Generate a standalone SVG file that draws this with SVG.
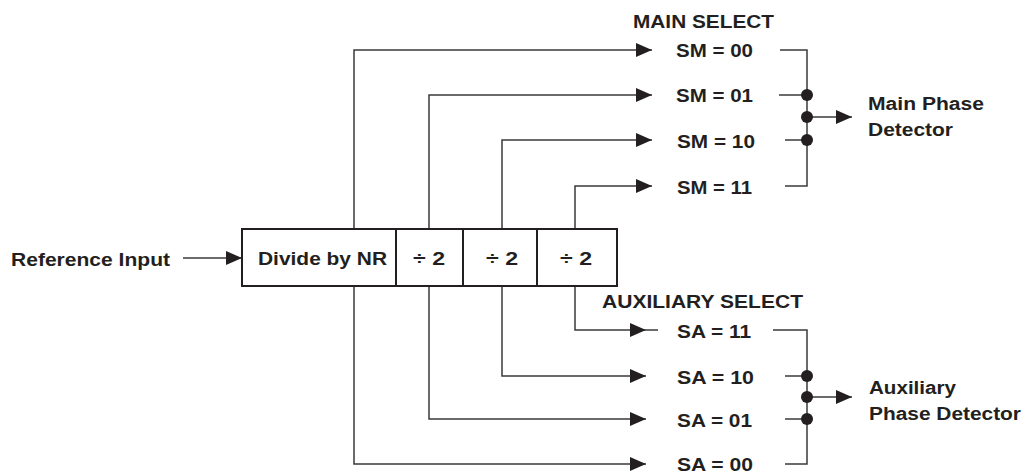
<svg xmlns="http://www.w3.org/2000/svg" width="1023" height="473" viewBox="0 0 1023 473">
<style>
.t{font-family:"Liberation Sans",Arial,sans-serif;font-weight:bold;font-size:18px;fill:#231f20}
.m{text-anchor:middle}
.ln{fill:none;stroke:#3a3a3a;stroke-width:1.5}
.bx{fill:#fff;stroke:#231f20;stroke-width:2}
.dot{fill:#231f20}
</style>
<defs>
<marker id="ah" markerUnits="userSpaceOnUse" markerWidth="16" markerHeight="14" refX="16" refY="7" orient="auto">
<path d="M0,0 L16,7 L0,14 z" fill="#231f20"/>
</marker>
</defs>
<rect width="1023" height="473" fill="#fff"/>
<g id="connectors">
<line class="ln" x1="183" y1="258" x2="242" y2="258" marker-end="url(#ah)"/>
<polyline class="ln" points="354,229 354,50 652,50" marker-end="url(#ah)"/>
<polyline class="ln" points="429,229 429,95 652,95" marker-end="url(#ah)"/>
<polyline class="ln" points="502,229 502,140 652,140" marker-end="url(#ah)"/>
<polyline class="ln" points="575,229 575,186 652,186" marker-end="url(#ah)"/>
<polyline class="ln" points="575,286 575,330 646,330" marker-end="url(#ah)"/>
<line class="ln" x1="646" y1="330" x2="658" y2="330"/>
<polyline class="ln" points="502,286 502,376 646,376" marker-end="url(#ah)"/>
<polyline class="ln" points="429,286 429,419 646,419" marker-end="url(#ah)"/>
<polyline class="ln" points="354,286 354,464 646,464" marker-end="url(#ah)"/>
<polyline class="ln" points="780,50 807,50 807,186 785,186"/>
<line class="ln" x1="779" y1="95" x2="807" y2="95"/>
<line class="ln" x1="785" y1="140" x2="807" y2="140"/>
<line class="ln" x1="807" y1="117" x2="852" y2="117" marker-end="url(#ah)"/>
<polyline class="ln" points="773,330 807,330 807,464 785,464"/>
<line class="ln" x1="785" y1="376" x2="807" y2="376"/>
<line class="ln" x1="785" y1="419" x2="807" y2="419"/>
<line class="ln" x1="807" y1="397" x2="852" y2="397" marker-end="url(#ah)"/>
<circle class="dot" cx="807" cy="95" r="6"/>
<circle class="dot" cx="807" cy="117" r="6"/>
<circle class="dot" cx="807" cy="140" r="6"/>
<circle class="dot" cx="807" cy="376" r="6"/>
<circle class="dot" cx="807" cy="397" r="6"/>
<circle class="dot" cx="807" cy="419" r="6"/>
</g>
<g id="input"><text class="t" x="11" y="266" textLength="159" lengthAdjust="spacingAndGlyphs">Reference Input</text></g>
<g id="divider">
<rect class="bx" x="242" y="229" width="375" height="57"/>
<line class="bx" x1="396" y1="229" x2="396" y2="286"/>
<line class="bx" x1="463" y1="229" x2="463" y2="286"/>
<line class="bx" x1="537" y1="229" x2="537" y2="286"/>
<text class="t" x="258" y="265" textLength="129" lengthAdjust="spacingAndGlyphs">Divide by NR</text>
<text class="t m" x="429" y="265" textLength="32" lengthAdjust="spacingAndGlyphs">÷ 2</text>
<text class="t m" x="502" y="265" textLength="32" lengthAdjust="spacingAndGlyphs">÷ 2</text>
<text class="t m" x="576" y="265" textLength="32" lengthAdjust="spacingAndGlyphs">÷ 2</text>
</g>
<g id="main-select">
<text class="t" x="633" y="28" textLength="141" lengthAdjust="spacingAndGlyphs">MAIN SELECT</text>
<text class="t" x="676" y="57" textLength="77" lengthAdjust="spacingAndGlyphs">SM = 00</text>
<text class="t" x="676" y="102" textLength="77" lengthAdjust="spacingAndGlyphs">SM = 01</text>
<text class="t" x="677" y="148" textLength="78" lengthAdjust="spacingAndGlyphs">SM = 10</text>
<text class="t" x="677" y="194" textLength="75" lengthAdjust="spacingAndGlyphs">SM = 11</text>
</g>
<g id="main-detector">
<text class="t" x="868" y="110" textLength="116" lengthAdjust="spacingAndGlyphs">Main Phase</text>
<text class="t" x="868" y="136" textLength="85" lengthAdjust="spacingAndGlyphs">Detector</text>
</g>
<g id="aux-select">
<text class="t" x="602" y="308" textLength="201" lengthAdjust="spacingAndGlyphs">AUXILIARY SELECT</text>
<text class="t" x="677" y="338" textLength="74" lengthAdjust="spacingAndGlyphs">SA = 11</text>
<text class="t" x="677" y="384" textLength="77" lengthAdjust="spacingAndGlyphs">SA = 10</text>
<text class="t" x="677" y="427" textLength="75" lengthAdjust="spacingAndGlyphs">SA = 01</text>
<text class="t" x="677" y="471" textLength="76" lengthAdjust="spacingAndGlyphs">SA = 00</text>
</g>
<g id="aux-detector">
<text class="t" x="869" y="394" textLength="87" lengthAdjust="spacingAndGlyphs">Auxiliary</text>
<text class="t" x="869" y="420" textLength="152" lengthAdjust="spacingAndGlyphs">Phase Detector</text>
</g>
</svg>
